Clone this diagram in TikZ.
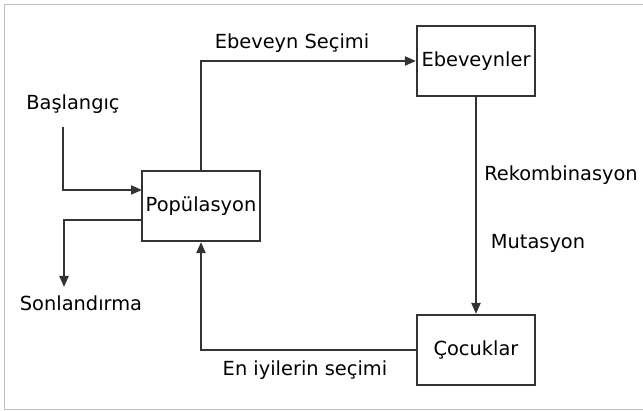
\documentclass[tikz,border=0pt]{standalone}
\usepackage{fontspec}
\setmainfont{DejaVu Sans}
\usepackage{tikz}
\usetikzlibrary{arrows.meta, positioning}

\begin{document}
\begin{tikzpicture}[x=1pt, y=-1pt, font=\fontsize{19.4}{22}\selectfont,
  kutu/.style={draw=black!80, line width=2.2pt, minimum width=118pt, minimum height=70pt, inner sep=0pt},
  ok/.style={draw=black!80, line width=2pt, -{Triangle[length=11pt,width=9pt]}}]
\useasboundingbox (0,0) rectangle (643,411);
\draw[black!25, line width=1.4pt] (643,4.5) -- (4.5,4.5) -- (4.5,409.5) -- (643,409.5);

\node[kutu] (pop) at (201,206) {Popülasyon};
\node[kutu] (ebev) at (476,61) {Ebeveynler};
\node[kutu] (cocuk) at (476,350) {Çocuklar};

\coordinate (bas) at (63,127);
\coordinate (popin) at (142,190);
\coordinate (popout) at (142,220);
\coordinate (son) at (64,287);

\node[] (baslabel) at (73,104) {Başlangıç};
\node[] (sonlabel) at (81,303) {Sonlandırma};
\node[] (eslabel) at (292,43) {Ebeveyn Seçimi};
\node[] (reklabel) at (561,175) {Rekombinasyon};
\node[] (mutlabel) at (538,243) {Mutasyon};
\node[] (enlabel) at (305,370) {En iyilerin seçimi};

\draw[ok] (bas) |- (popin);
\draw[ok] (popout) -| (son);
\draw[ok] (pop.north) |- (ebev.west);
\draw[ok] (ebev.south) -- (cocuk.north);
\draw[ok] (cocuk.west) -| (pop.south);
\end{tikzpicture}
\end{document}
